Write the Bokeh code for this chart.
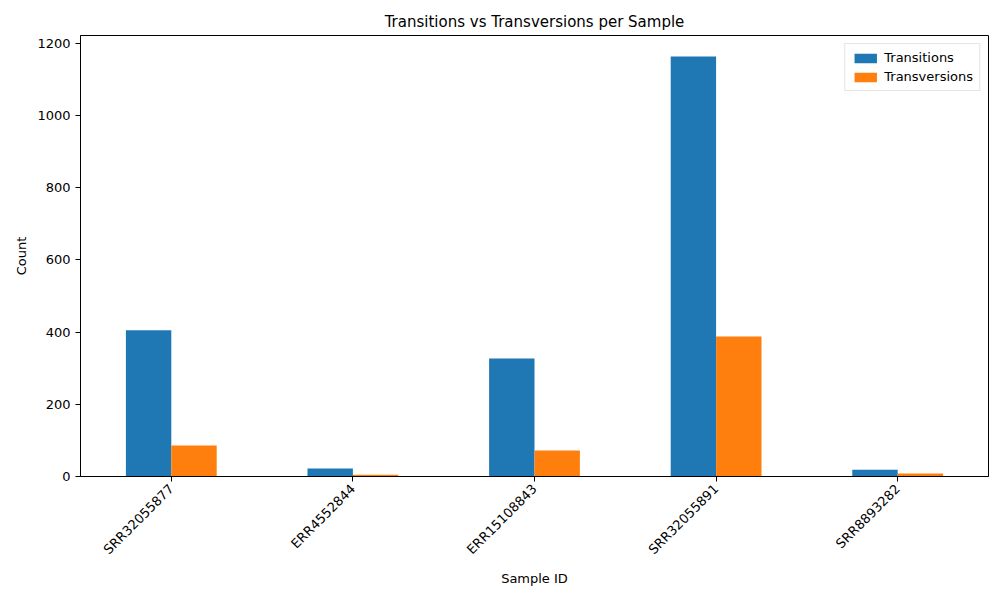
from bokeh.plotting import figure
from bokeh.models import ColumnDataSource, FactorRange, Range1d, Legend, LegendItem
from bokeh.transform import dodge
from bokeh.embed import file_html
from bokeh.resources import INLINE
import math

samples = ["SRR32055877", "ERR4552844", "ERR15108843", "SRR32055891", "SRR8893282"]
transitions = [405, 22, 327, 1164, 19]
transversions = [86, 5, 72, 388, 8]

src = ColumnDataSource(dict(s=samples, ti=transitions, tv=transversions))
p = figure(width=992, height=592, x_range=FactorRange(*samples), y_range=Range1d(0, 1222),
           output_backend="svg", toolbar_location=None,
           min_border_left=80, min_border_right=4, min_border_top=35, min_border_bottom=116,
           title="Transitions vs Transversions per Sample")
p.title.align = "center"
p.title.text_font = "DejaVu Sans"
p.title.text_font_style = "normal"
p.title.text_font_size = "15px"
p.title.text_color = "black"
r1 = p.vbar(x=dodge("s", -0.125, range=p.x_range), top="ti", width=0.25, source=src, color="#1f77b4", line_color=None)
r2 = p.vbar(x=dodge("s", 0.125, range=p.x_range), top="tv", width=0.25, source=src, color="#ff7f0e", line_color=None)
p.xgrid.visible = False
p.ygrid.visible = False
p.outline_line_color = "black"
p.xaxis.axis_label = "Sample ID"
p.yaxis.axis_label = "Count"
p.xaxis.major_label_orientation = math.pi / 4
for ax in (p.xaxis, p.yaxis):
    ax.axis_label_text_font = "DejaVu Sans"
    ax.axis_label_text_font_style = "normal"
    ax.axis_label_text_font_size = "13px"
    ax.axis_label_text_color = "black"
    ax.major_label_text_font = "DejaVu Sans"
    ax.major_label_text_font_size = "13px"
    ax.major_label_text_color = "black"
    ax.major_tick_in = 0
    ax.major_tick_out = 5
    ax.major_tick_line_color = "black"
    ax.minor_tick_line_color = None
    ax.axis_line_color = "black"
p.yaxis.ticker = [0, 200, 400, 600, 800, 1000, 1200]
leg = Legend(items=[LegendItem(label="Transitions", renderers=[r1]),
                    LegendItem(label="Transversions", renderers=[r2])],
             location="top_right", label_text_font="DejaVu Sans", label_text_font_size="13px",
             label_text_color="black",
             border_line_color="#cccccc", glyph_width=28, glyph_height=12, spacing=4,
             padding=6, margin=8)
p.add_layout(leg)
open("out.html", "w").write(file_html(p, INLINE))
